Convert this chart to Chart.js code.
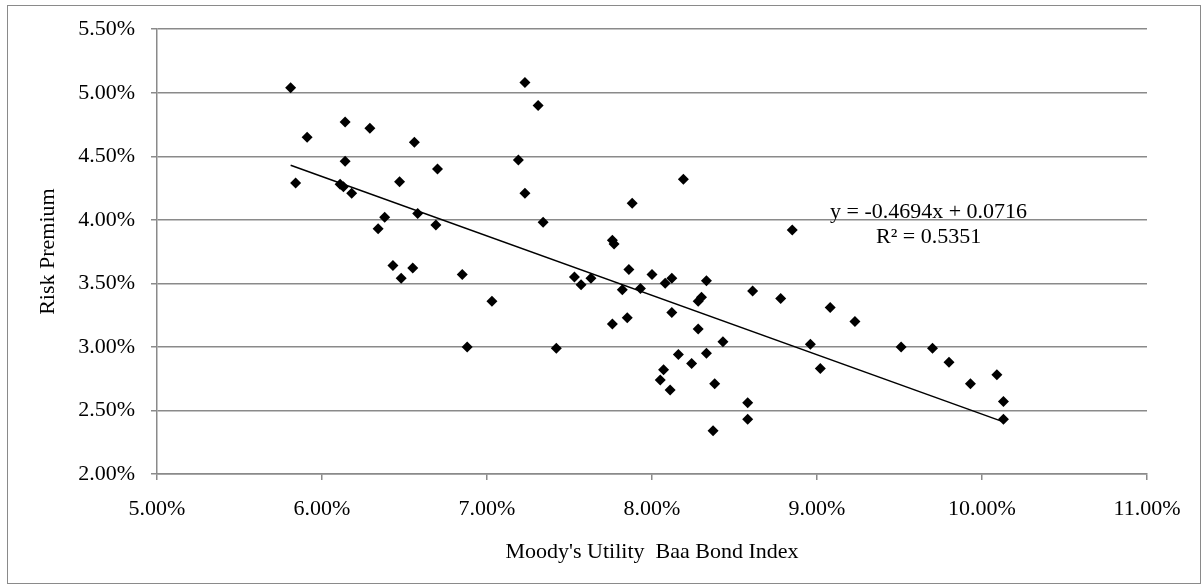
<!DOCTYPE html>
<html>
<head>
<meta charset="utf-8">
<script src="https://cdn.jsdelivr.net/npm/chart.js@4/dist/chart.umd.min.js"></script>
<style>
  html, body { margin: 0; padding: 0; background: #fff; }
  #wrap { position: relative; width: 1203px; height: 588px; }
  #frame { position: absolute; left: 7px; top: 5px; width: 1192px; height: 577px; border: 1px solid #8a8a8a; pointer-events: none; }
</style>
</head>
<body>
<div id="wrap">
  <canvas id="chart"></canvas>
  <div id="frame"></div>
</div>
<script>
// Moody's utility Baa yield (%) vs risk premium (%)
const baaYield = [
  5.81, 5.91, 5.84, 6.14, 6.14, 6.11, 6.13, 6.18, 6.29, 6.56, 6.47, 6.70, 6.34, 6.38, 6.58, 6.69, 6.43, 6.48, 6.55,
  6.85, 7.03, 7.23, 7.31, 7.19, 7.23, 7.34, 7.53, 7.57, 7.63, 7.76, 7.77, 7.88, 7.86, 7.82, 7.93, 8.00, 8.08, 8.12,
  8.19, 8.33, 8.28, 8.30, 8.61, 8.78, 8.85,
  6.88, 7.42, 7.76, 7.85, 8.12, 8.28, 8.43, 8.33, 8.16, 8.24, 8.07, 8.05, 8.11, 8.38, 8.58, 8.58, 8.37,
  9.08, 9.23, 8.96, 9.02, 9.51, 9.70, 9.80, 9.93, 10.09, 10.13, 10.13,
];
const riskPremium = [
  5.04, 4.65, 4.29, 4.77, 4.46, 4.28, 4.26, 4.21, 4.72, 4.61, 4.30, 4.40, 3.93, 4.02, 4.05, 3.96, 3.64, 3.54, 3.62,
  3.57, 3.36, 5.08, 4.90, 4.47, 4.21, 3.98, 3.55, 3.49, 3.54, 3.84, 3.81, 4.13, 3.61, 3.45, 3.46, 3.57, 3.50, 3.54,
  4.32, 3.52, 3.36, 3.39, 3.44, 3.38, 3.92,
  3.00, 2.99, 3.18, 3.23, 3.27, 3.14, 3.04, 2.95, 2.94, 2.87, 2.82, 2.74, 2.66, 2.71, 2.56, 2.43, 2.34,
  3.31, 3.20, 3.02, 2.83, 3.00, 2.99, 2.88, 2.71, 2.78, 2.57, 2.43,
];
// linear trend line at its two ends
const trendX = [5.81, 10.13];
const trendY = [4.43, 2.41];
const trendLabel = ['y = -0.4694x + 0.0716', 'R\u00b2 = 0.5351'];

const FONT = '"Liberation Serif", "Times New Roman", serif';
const GRID = '#8a8a8a';

const eqLabel = {
  id: 'eqLabel',
  afterDatasetsDraw(c) {
    const { ctx, scales: { x, y } } = c;
    ctx.save();
    ctx.fillStyle = '#000';
    ctx.font = `22px ${FONT}`;
    ctx.textAlign = 'center';
    ctx.textBaseline = 'middle';
    ctx.fillText(trendLabel[0], x.getPixelForValue(9.676), y.getPixelForValue(4.056));
    ctx.fillText(trendLabel[1], x.getPixelForValue(9.676), y.getPixelForValue(3.86));
    ctx.restore();
  },
};

new Chart(document.getElementById('chart'), {
  type: 'scatter',
  data: {
    datasets: [
      {
        label: 'Risk Premium',
        data: baaYield.map((v, i) => ({ x: v, y: riskPremium[i] })),
        pointStyle: 'rectRot', pointRadius: 5.5, pointHoverRadius: 5.5,
        backgroundColor: '#000', borderColor: '#000', borderWidth: 0,
      },
      {
        label: 'Linear',
        type: 'line',
        data: trendX.map((v, i) => ({ x: v, y: trendY[i] })),
        borderColor: '#000', borderWidth: 1.5, pointRadius: 0, fill: false,
      },
    ],
  },
  options: {
    responsive: true, maintainAspectRatio: false, animation: false,
    layout: { padding: { left: 0, top: 28, right: 56, bottom: 0 } },
    plugins: { legend: { display: false }, tooltip: { enabled: false } },
    scales: {
      x: {
        type: 'linear', min: 5, max: 11,
        afterFit: (s) => { s.height = 114; },
        ticks: { stepSize: 1, color: '#000', padding: 16, font: { family: FONT, size: 22 }, callback: (v) => v.toFixed(2) + '%' },
        grid: { drawOnChartArea: false, color: GRID, tickLength: 6, lineWidth: 1.5 },
        border: { color: GRID, width: 1.5 },
        title: { display: true, text: "Moody's Utility  Baa Bond Index", color: '#000', font: { family: FONT, size: 22 }, padding: { top: 0, bottom: 23 } },
      },
      y: {
        type: 'linear', min: 2, max: 5.5,
        afterFit: (s) => { s.width = 157; },
        ticks: { stepSize: 0.5, color: '#000', padding: 16, font: { family: FONT, size: 22 }, callback: (v) => v.toFixed(2) + '%' },
        grid: { color: GRID, tickLength: 6, lineWidth: 1.5 },
        border: { color: GRID, width: 1.5 },
        title: { display: true, text: 'Risk Premium', color: '#000', font: { family: FONT, size: 22 }, padding: { top: 35, bottom: 0 } },
      },
    },
  },
  plugins: [eqLabel],
});
</script>
</body>
</html>
